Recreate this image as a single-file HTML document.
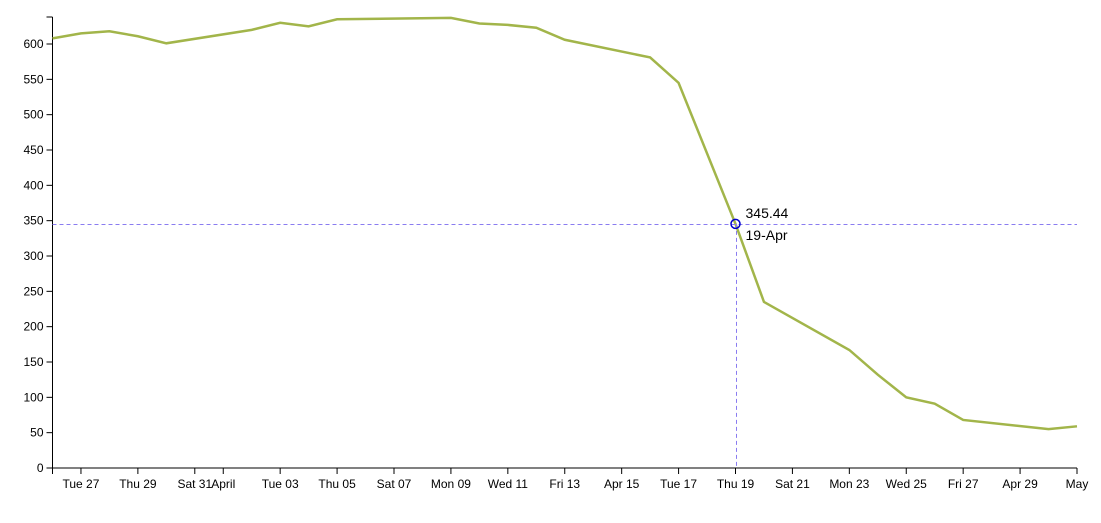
<!DOCTYPE html>
<html><head><meta charset="utf-8"><style>
html,body{margin:0;padding:0;background:#fff;}
svg{display:block;font-family:"Liberation Sans",Arial,sans-serif;font-size:12px;}
</style></head><body>
<svg id="chart" width="1101" height="523" viewBox="0 0 1101 523"></svg>
<script>
const dayOffsets=[0,1,2,3,4,7,8,9,10,14,15,16,17,18,21,22,24,25,28,29,30,31,32,35,36];
const values=[608,615,618,611,601,620,630,625,635,637,629,627,623,606,581,545,345.44,235,167,132,100,91,68,55,59];
const tickDays=[1,3,5,6,8,10,12,14,16,18,20,22,24,26,28,30,32,34,36];
const tickLabels=["Tue 27","Thu 29","Sat 31","April","Tue 03","Thu 05","Sat 07","Mon 09","Wed 11","Fri 13","Apr 15","Tue 17","Thu 19","Sat 21","Mon 23","Wed 25","Fri 27","Apr 29","May"];
const yTicks=[0,50,100,150,200,250,300,350,400,450,500,550,600];
const focusIndex=16;
const focusLabel="19-Apr";

const NS="http://www.w3.org/2000/svg";
const svg=document.getElementById('chart');
const x0=52.5,x1=1077,y0=468,yTop=44;
const xs=d=>x0+d*(x1-x0)/36;
const ys=v=>y0-v*(y0-yTop)/600;
function mk(t,a,p){const e=document.createElementNS(NS,t);for(const k in a)e.setAttribute(k,a[k]);(p||svg).appendChild(e);return e;}

const yAxis=mk('g',{});


mk('line',{x1:x0,y1:17,x2:x0,y2:y0,stroke:'#000'},yAxis);
mk('line',{x1:x0-6,y1:17,x2:x0,y2:17,stroke:'#000'},yAxis);
yTicks.forEach(v=>{
  mk('line',{x1:x0-6,y1:ys(v),x2:x0,y2:ys(v),stroke:'#000'},yAxis);
  const t=mk('text',{x:x0-9,y:ys(v)+4,'text-anchor':'end',fill:'#000'},yAxis);
  
  
  t.textContent=v;
});
const xAxis=mk('g',{});


mk('line',{x1:x0,y1:y0,x2:x1,y2:y0,stroke:'#000'},xAxis);
mk('line',{x1:x0,y1:y0,x2:x0,y2:y0+6,stroke:'#000'},xAxis);
tickDays.forEach((d,i)=>{
  mk('line',{x1:xs(d),y1:y0,x2:xs(d),y2:y0+6,stroke:'#000'},xAxis);
  const t=mk('text',{x:xs(d),y:y0+20,'text-anchor':'middle',fill:'#000'},xAxis);
  
  
  t.textContent=tickLabels[i];
});
const line=mk('path',{d:dayOffsets.map((d,i)=>(i?'L':'M')+xs(d)+','+ys(values[i])).join(''),fill:'none',stroke:'#a2b54a','stroke-width':2.5});


const fx=xs(dayOffsets[focusIndex]),fy=ys(values[focusIndex]);
const cx=Math.round(fx)+0.5,cy=Math.round(fy)+0.5;
const hl=mk('line',{x1:x0,y1:cy,x2:x1,y2:cy,stroke:'#8a7cf0','stroke-dasharray':'4,3','stroke-width':1});


const vl=mk('line',{x1:cx,y1:fy,x2:cx,y2:y0,stroke:'#8a7cf0','stroke-dasharray':'4,3','stroke-width':1});


const c=mk('circle',{cx:fx,cy:fy,r:4.5,fill:'none',stroke:'#0000cc','stroke-width':1.5});


const t1=mk('text',{x:fx+10,y:fy-6,fill:'#000','font-size':'14'});


t1.textContent=values[focusIndex].toFixed(2);
const t2=mk('text',{x:fx+10,y:fy+16,fill:'#000','font-size':'14'});


t2.textContent=focusLabel;
</script>
</body></html>
